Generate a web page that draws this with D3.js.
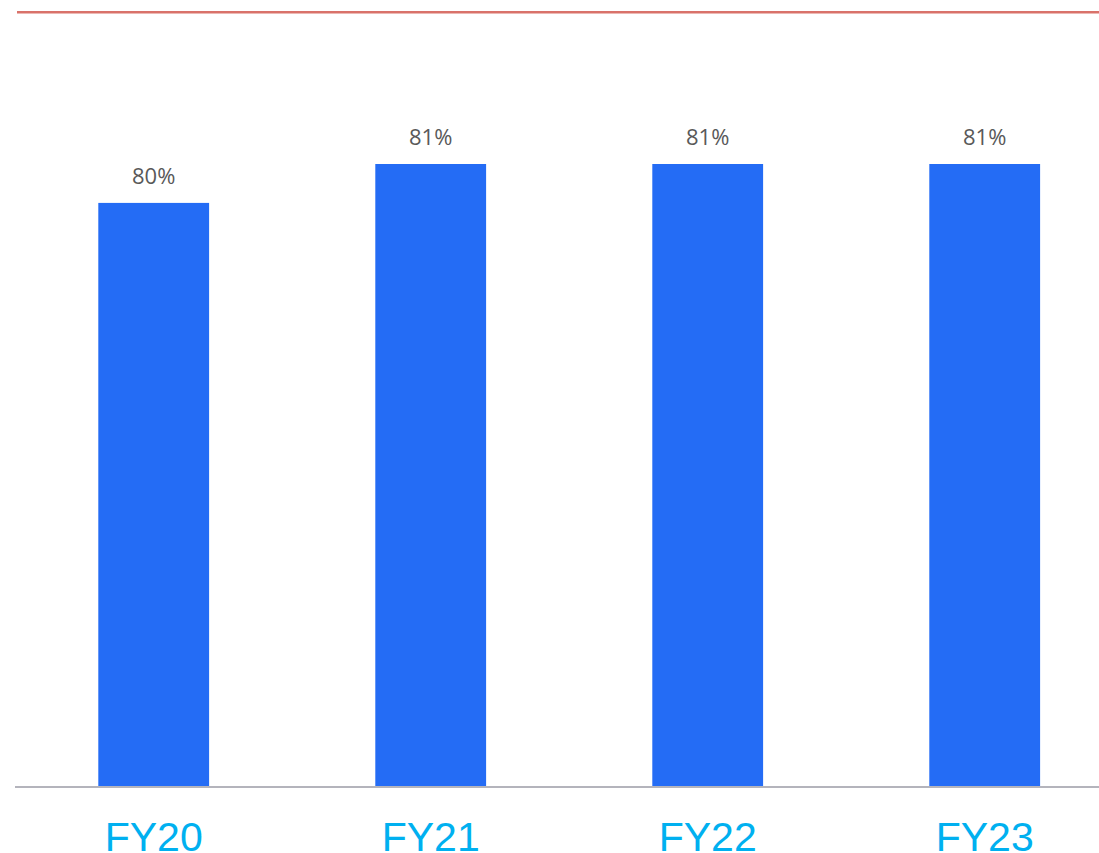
<!DOCTYPE html>
<html>
<head>
<meta charset="utf-8">
<script src="https://cdn.jsdelivr.net/npm/d3@7"></script>
<style>
  html, body { margin: 0; padding: 0; background: #ffffff; }
  svg { display: block; }
</style>
</head>
<body>
<svg id="chart" width="1099" height="853"></svg>
<script>
const categories = ["FY20", "FY21", "FY22", "FY23"];
const values = [80, 81, 81, 81];
const valueLabels = ["80%", "81%", "81%", "81%"];

const svg = d3.select("#chart");
const W = 1099, H = 853;
const baseY = 786.5;

const x = d3.scaleBand()
  .domain(categories)
  .range([15.2, 1123.2])
  .paddingInner(0.6)
  .paddingOuter(0.3);

const y = d3.scaleLinear()
  .domain([65, 81])
  .range([baseY, 164]);

// top red rule
svg.append("line")
  .attr("x1", 17).attr("x2", W)
  .attr("y1", 12.3).attr("y2", 12.3)
  .attr("stroke", "#d9726a")
  .attr("stroke-width", 2.5);

// bars
svg.append("g").selectAll("rect")
  .data(values)
  .join("rect")
  .attr("x", (d, i) => x(categories[i]))
  .attr("width", x.bandwidth())
  .attr("y", d => y(d))
  .attr("height", d => baseY - y(d))
  .attr("fill", "#246cf5");

// value labels
svg.append("g").selectAll("text")
  .data(values)
  .join("text")
  .attr("x", (d, i) => x(categories[i]) + x.bandwidth() / 2)
  .attr("y", d => y(d) - 19)
  .attr("text-anchor", "middle")
  .attr("font-family", "'Open Sans', sans-serif")
  .attr("font-size", 22)
  .attr("fill", "#595959")
  .text((d, i) => valueLabels[i]);

// baseline axis
const axis = d3.axisBottom(x).tickSize(0).tickPadding(0);
const gAxis = svg.append("g")
  .attr("transform", `translate(0,${baseY})`)
  .call(axis);
gAxis.select(".domain").remove();
gAxis.append("line")
  .attr("x1", 15).attr("x2", W)
  .attr("y1", 0.5).attr("y2", 0.5)
  .attr("stroke", "#b4b4bc")
  .attr("stroke-width", 2);
gAxis.selectAll(".tick text")
  .attr("y", 64.5)
  .attr("dy", null)
  .attr("font-family", "'Liberation Sans', Arial, sans-serif")
  .attr("font-size", 41)
  .attr("fill", "#00b0f0");
</script>
</body>
</html>
